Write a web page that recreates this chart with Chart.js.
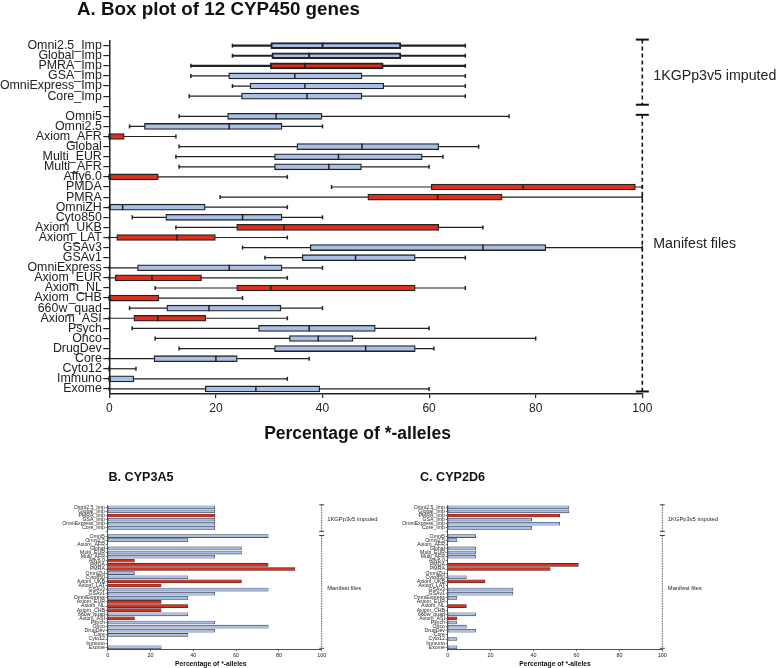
<!DOCTYPE html>
<html><head><meta charset="utf-8">
<script src="https://cdn.jsdelivr.net/npm/chart.js@4.4.0/dist/chart.umd.min.js"></script>
<style>
html,body{margin:0;padding:0;background:#fff;}
#wrap{position:relative;width:778px;height:668px;overflow:hidden;background:#fff;}
canvas{position:absolute;}
</style></head><body>
<div id="wrap">
<canvas id="cA" width="778" height="455" style="left:0;top:0"></canvas>
<canvas id="cB" width="389" height="203" style="left:0;top:465px"></canvas>
<canvas id="cC" width="389" height="203" style="left:389px;top:465px"></canvas>
</div>
<script>
// ---------- DATA ----------
const categories = ['Omni2.5_Imp','Global_Imp','PMRA_Imp','GSA_Imp','OmniExpress_Imp','Core_Imp','',
  'Omni5','Omni2.5','Axiom_AFR','Global','Multi_EUR','Multi_AFR','Affy6.0','PMDA','PMRA','OmniZH',
  'Cyto850','Axiom_UKB','Axiom_LAT','GSAv3','GSAv1','OmniExpress','Axiom_EUR','Axiom_NL','Axiom_CHB',
  '660w_quad','Axiom_ASI','Psych','Onco','DrugDev','Core','Cyto12','Immuno','Exome'];
const platform = ['Illumina','Illumina','Affymetrix','Illumina','Illumina','Illumina','',
  'Illumina','Illumina','Affymetrix','Illumina','Illumina','Illumina','Affymetrix','Affymetrix','Affymetrix','Illumina',
  'Illumina','Affymetrix','Affymetrix','Illumina','Illumina','Illumina','Affymetrix','Affymetrix','Affymetrix',
  'Illumina','Affymetrix','Illumina','Illumina','Illumina','Illumina','Illumina','Illumina','Illumina'];
const whiskerMin = [23.1,23.1,15.3,15.3,23.1,15.0,null,
  13.1,3.8,0,13.1,12.5,13.1,0,41.7,20.8,0,
  4.3,12.5,0,25.0,29.2,0,0,8.6,0,
  3.8,0,4.3,8.6,13.1,0,0,0,0];
const q1 = [30.3,30.5,30.2,22.4,26.4,24.8,null,
  22.2,6.6,0,35.2,31.0,31.0,0,60.4,48.5,0,
  10.6,23.9,1.4,37.7,36.2,5.3,1.1,23.9,0,
  10.8,4.6,28.0,33.8,31.0,8.4,0,0,18.0];
const median = [40.0,37.5,36.7,34.8,36.7,37.1,null,
  31.3,22.5,0,47.4,43.0,41.2,0,77.6,61.6,2.5,
  25.0,32.8,12.7,70.1,46.2,22.5,8.0,30.3,0,
  18.7,9.1,37.5,39.2,48.1,20.0,0,0,27.5];
const q3 = [54.7,54.7,51.4,47.4,51.5,47.4,null,
  39.9,32.4,2.8,61.8,58.7,47.3,9.2,98.7,73.7,18.0,
  32.4,61.8,19.9,81.9,57.4,32.4,17.3,57.4,9.3,
  32.2,18.1,49.9,45.7,57.4,24.0,0,4.6,39.5];
const whiskerMax = [66.8,66.8,66.8,66.8,66.8,66.8,null,
  75.0,40.0,12.5,69.3,62.6,60.0,33.4,100,100,33.4,
  40.0,70.1,33.4,100,66.8,40.0,33.4,66.8,25.0,
  40.0,33.4,60.0,80.0,60.9,37.5,5.0,33.4,60.0];
const cyp3a5 = [50,50,50,50,50,50,null,
  75,37.5,0,62.5,62.5,50,12.5,75,87.5,12.5,
  37.5,62.5,25,75,50,37.5,25,37.5,25,
  37.5,12.5,50,75,50,37.5,0,0,25];
const cyp2d6 = [56.5,56.5,52.2,39.1,52.2,39.1,null,
  13.0,4.3,0,13.0,13.0,13.0,0,60.9,47.8,0,
  8.7,17.4,0,30.4,30.4,4.3,0,8.7,0,
  13.0,4.3,4.3,8.7,13.0,0,4.3,0,4.3];
const xTicks = [0,20,40,60,80,100];
const groupLabels = ['1KGPp3v5 imputed','Manifest files'];
const axisTitle = 'Percentage of *-alleles';
const thickRows = ['Omni2.5_Imp','Global_Imp','PMRA_Imp'];

// ---------- STYLE ----------
const FONT = '"Liberation Sans", Arial, Helvetica, sans-serif';
const BLUE = '#a9bfe8', RED = '#dc2f1e', INK = '#222';
const colorOf = p => p === 'Affymetrix' ? RED : BLUE;
const bracketRows = [[-0.6, 5.85], [6.85, 34.25]];
const labelRows = [3.0, 19.7];

function annotPlugin(c) {
  return {
    id: 'annot_' + c.key,
    afterDraw(chart) {
      const {ctx, scales: {x, y}} = chart;
      ctx.save();
      ctx.fillStyle = '#111';
      ctx.textBaseline = 'middle';
      ctx.textAlign = 'left';
      ctx.font = `bold ${c.titleSize}px ${FONT}`;
      ctx.fillText(c.title, c.titleX, c.titleY);
      ctx.textAlign = 'center';
      ctx.font = `bold ${c.axisSize}px ${FONT}`;
      ctx.fillText(axisTitle, c.axisX, c.axisY);
      const bx = x.getPixelForValue(xTicks[xTicks.length - 1]);
      ctx.strokeStyle = '#111';
      bracketRows.forEach((r, gi) => {
        const y0 = y.getPixelForValue(r[0]), y1 = y.getPixelForValue(r[1]);
        ctx.lineWidth = c.dashW;
        ctx.setLineDash(c.dash);
        ctx.beginPath(); ctx.moveTo(bx, y0); ctx.lineTo(bx, y1); ctx.stroke();
        ctx.setLineDash([]);
        ctx.lineWidth = c.capW;
        [y0, y1].forEach(yy => {
          ctx.beginPath(); ctx.moveTo(bx - c.capHalf, yy); ctx.lineTo(bx + c.capHalf, yy); ctx.stroke();
        });
        ctx.textAlign = 'left';
        ctx.fillStyle = '#222';
        ctx.font = `${c.groupSize}px ${FONT}`;
        ctx.fillText(groupLabels[gi], bx + c.groupDx, y.getPixelForValue(labelRows[gi]));
      });
      ctx.restore();
    }
  };
}

const boxPlugin = {
  id: 'boxWhiskers',
  beforeDatasetsDraw(chart) {
    const {ctx, scales: {x, y}} = chart;
    ctx.save();
    ctx.strokeStyle = INK;
    categories.forEach((c, i) => {
      if (whiskerMin[i] == null) return;
      const yy = y.getPixelForValue(i);
      ctx.lineWidth = thickRows.includes(c) ? 2.2 : 1.2;
      ctx.beginPath();
      ctx.moveTo(x.getPixelForValue(whiskerMin[i]), yy);
      ctx.lineTo(x.getPixelForValue(whiskerMax[i]), yy);
      ctx.stroke();
      ctx.lineWidth = 1.5;
      [whiskerMin[i], whiskerMax[i]].forEach(v => {
        const xx = x.getPixelForValue(v);
        ctx.beginPath(); ctx.moveTo(xx, yy - 2); ctx.lineTo(xx, yy + 2); ctx.stroke();
      });
    });
    ctx.restore();
  },
  afterDatasetsDraw(chart) {
    const {ctx, scales: {x, y}} = chart;
    ctx.save();
    ctx.strokeStyle = INK;
    categories.forEach((c, i) => {
      if (median[i] == null) return;
      const yy = y.getPixelForValue(i);
      const xx = x.getPixelForValue(median[i]);
      ctx.lineWidth = thickRows.includes(c) ? 2 : 1.5;
      ctx.beginPath(); ctx.moveTo(xx, yy - 3); ctx.lineTo(xx, yy + 3); ctx.stroke();
    });
    ctx.restore();
  }
};

function scalesFor(o) {
  return {
    x: {
      type: 'linear', min: xTicks[0], max: xTicks[xTicks.length - 1],
      afterBuildTicks(s) { s.ticks = xTicks.map(v => ({value: v})); },
      ticks: {font: {family: FONT, size: o.xTickSize}, color: INK, padding: o.xTickPad, maxRotation: 0},
      grid: {drawOnChartArea: false, drawTicks: true, tickLength: o.xTickLen, color: INK, lineWidth: o.tickW},
      border: {display: true, color: INK, width: o.axisW},
      afterFit(s) { s.height = o.xHeight; }
    },
    y: {
      type: 'category',
      ticks: {font: {family: FONT, size: o.yTickSize}, color: INK, padding: o.yTickPad, autoSkip: false},
      grid: {offset: false, drawOnChartArea: false, drawTicks: true, tickLength: o.yTickLen, color: INK, lineWidth: o.tickW},
      border: {display: true, color: INK, width: o.axisW},
      afterFit(s) { s.width = o.yWidth; }
    }
  };
}

const common = {
  indexAxis: 'y', responsive: false, animation: false, devicePixelRatio: 1,
  plugins: {legend: {display: false}, tooltip: {enabled: false}, title: {display: false}}
};

// ---------- CHART A ----------
new Chart(document.getElementById('cA'), {
  type: 'bar',
  data: {
    labels: categories,
    datasets: [{
      data: categories.map((c, i) => q1[i] == null ? null : [q1[i], q3[i]]),
      backgroundColor: platform.map(colorOf),
      borderColor: INK,
      borderWidth: categories.map(c => thickRows.includes(c) ? 2 : 1.3),
      borderSkipped: false,
      barThickness: 6
    }]
  },
  options: Object.assign({}, common, {
    layout: {padding: {top: 40.6, right: 135.7, bottom: 0, left: 0}},
    scales: scalesFor({xTickSize: 12, xTickPad: 3, xTickLen: 4, tickW: 1.2, axisW: 1.5, xHeight: 61,
      yTickSize: 12.4, yTickPad: 1.5, yTickLen: 6, yWidth: 109.3})
  }),
  plugins: [boxPlugin, annotPlugin({key: 'A', title: 'A. Box plot of 12 CYP450 genes', titleSize: 18.8, titleX: 77, titleY: 10,
    axisSize: 17.5, axisX: 357.5, axisY: 434, dashW: 1.6, dash: [4, 3], capW: 2, capHalf: 6.5, groupSize: 14.2, groupDx: 11})]
});

// ---------- CHARTS B, C ----------
function smallChart(id, values, title, yWidth, padRight, titleX, axisX) {
  new Chart(document.getElementById(id), {
    type: 'bar',
    data: {
      labels: categories,
      datasets: [{
        data: values,
        backgroundColor: platform.map(colorOf),
        borderColor: '#333',
        borderWidth: 0.6,
        borderSkipped: false,
        barThickness: 3
      }]
    },
    options: Object.assign({}, common, {
      layout: {padding: {top: 40.2, right: padRight, bottom: 0, left: 0}},
      scales: scalesFor({xTickSize: 5.4, xTickPad: 1, xTickLen: 2, tickW: 0.6, axisW: 0.8, xHeight: 18.7,
        yTickSize: 5.2, yTickPad: 0.8, yTickLen: 2, yWidth: yWidth})
    }),
    plugins: [annotPlugin({key: id, title: title, titleSize: 12.6, titleX: titleX, titleY: 13,
      axisSize: 6.7, axisX: axisX, axisY: 199, dashW: 0.7, dash: [1.5, 1], capW: 0.8, capHalf: 2.5, groupSize: 5.8, groupDx: 5.5})]
  });
}
smallChart('cB', cyp3a5, 'B. CYP3A5', 107.7, 67.3, 108.5, 210.8);
smallChart('cC', cyp2d6, 'C. CYP2D6', 58.7, 115.7, 31, 166);
</script>
</body></html>
